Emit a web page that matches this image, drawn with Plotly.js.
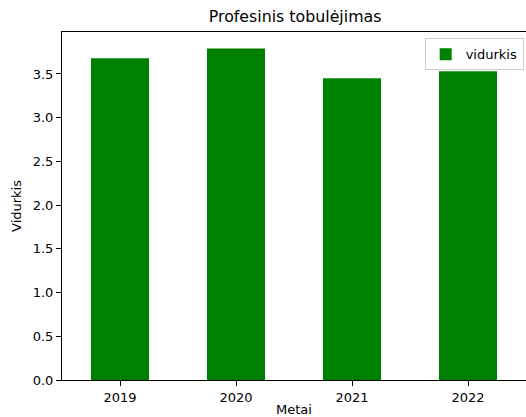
<!DOCTYPE html>
<html>
<head>
<meta charset="utf-8">
<script src="https://cdn.plot.ly/plotly-3.0.1.min.js"></script>
<style>html,body{margin:0;padding:0;background:#fff;}#chart{width:526px;height:417px;}</style>
</head>
<body>
<div id="chart"></div>
<script>
const years = ["2019", "2020", "2021", "2022"];
const vidurkis = [3.68, 3.79, 3.45, 3.53];
const seriesName = "vidurkis";
const chartTitle = "Profesinis tobulėjimas";
const xTitle = "Metai";
const yTitle = "Vidurkis";
const yTicks = [0, 0.5, 1.0, 1.5, 2.0, 2.5, 3.0, 3.5];
const yTickText = ["0.0", "0.5", "1.0", "1.5", "2.0", "2.5", "3.0", "3.5"];

const font = {family: "DejaVu Sans", size: 13, color: "#000"};
const data = [{
  type: "bar",
  x: years,
  y: vidurkis,
  name: seriesName,
  width: 0.5,
  marker: {color: "#008000", line: {width: 0}},
  showlegend: true
}];
const layout = {
  width: 526, height: 417,
  margin: {l: 62, r: 0, t: 32, b: 37, pad: 0},
  paper_bgcolor: "#fff", plot_bgcolor: "#fff",
  font: font,
  title: {text: chartTitle, font: {family: "DejaVu Sans", size: 15.8, color: "#000"}, x: 0.561, xanchor: "center", y: 0.96, yanchor: "middle"},
  xaxis: {
    type: "category", range: [-0.5, 3.5],
    showline: true, linecolor: "#000", linewidth: 1, mirror: true,
    ticks: "outside", ticklen: 5, tickcolor: "#000", tickwidth: 1,
    showgrid: false, zeroline: false,
    tickfont: font,
    title: {text: xTitle, font: font, standoff: 6}
  },
  yaxis: {
    range: [0, 3.98],
    tickvals: yTicks, ticktext: yTickText,
    showline: true, linecolor: "#000", linewidth: 1, mirror: true,
    ticks: "outside", ticklen: 5, tickcolor: "#000", tickwidth: 1,
    showgrid: false, zeroline: false,
    tickfont: font,
    title: {text: yTitle, font: font, standoff: 8}
  },
  legend: {
    x: 0.995, xanchor: "right", y: 0.982, yanchor: "top",
    bgcolor: "rgba(255,255,255,0.8)", bordercolor: "#cccccc", borderwidth: 1,
    font: {family: "DejaVu Sans", size: 13, color: "#000"},
    itemwidth: 30
  },
  bargap: 0.5
};
Plotly.newPlot("chart", data, layout, {staticPlot: true, displayModeBar: false});
</script>
</body>
</html>
